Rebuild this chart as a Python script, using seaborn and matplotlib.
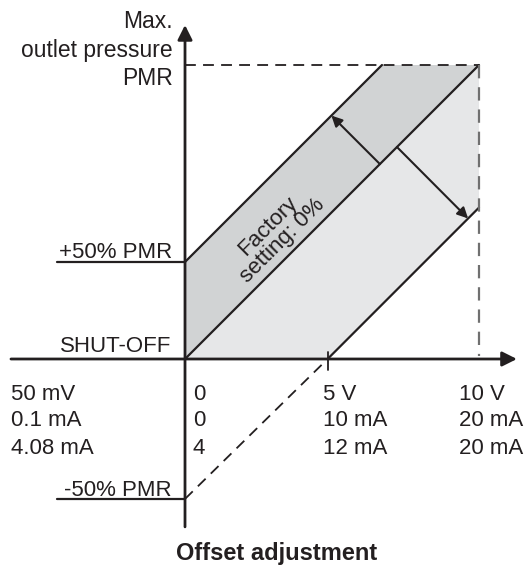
import seaborn as sns
import matplotlib.pyplot as plt
import pandas as pd

# schematic units: 1 unit ~ 29.4 px, x in volts (0..10)
pmr_level = 10.0
plus50_level = 3.3
minus50_level = -4.76
half_x = 4.85
full_x = 10.0

y_labels = ["Max.\noutlet pressure\nPMR", "+50% PMR", "SHUT-OFF", "-50% PMR"]
y_label_pos = [10.5, 3.63, 0.42, -4.47]
col_x = [-5.92, 0.27, 4.69, 9.32]
col_labels = [
    ["50 mV", "0.1 mA", "4.08 mA"],
    ["0", "0", "4"],
    ["5 V", "10 mA", "12 mA"],
    ["10 V", "20 mA", "20 mA"],
]
row_y = [-1.22, -2.1, -3.03]

ink = "#231f20"
dark_grey = "#d1d3d4"
light_grey = "#e6e7e8"
fs = 16

sns.set_style("white")
plt.rcParams["font.family"] = ["Liberation Sans", "DejaVu Sans"]

fig = plt.figure(figsize=(5.24, 5.67), dpi=100)
ax = fig.add_axes([0, 0, 1, 1])
ax.set_xlim(-6.293, 11.531)
ax.set_ylim(-7.075, 12.211)
ax.axis("off")

top_cross = pmr_level - plus50_level
# filled bands
ax.fill([0, top_cross, full_x, 0], [plus50_level, pmr_level, pmr_level, 0],
        color=dark_grey, lw=0, zorder=1)
ax.fill([0, full_x, full_x, half_x], [0, pmr_level, full_x - half_x, 0],
        color=light_grey, lw=0, zorder=1)

# solid characteristic lines
lines = pd.DataFrame({
    "x": [0, top_cross, 0, full_x, half_x, full_x,
          -4.35, 0, -4.35, 0],
    "y": [plus50_level, pmr_level, 0, pmr_level, 0, full_x - half_x,
          plus50_level, plus50_level, minus50_level, minus50_level],
    "line": ["up", "up", "mid", "mid", "low", "low",
             "p50", "p50", "m50", "m50"],
})
sns.lineplot(data=lines, x="x", y="y", units="line", estimator=None,
             color=ink, lw=1.6, ax=ax, zorder=3, sort=False)

# dashed helpers
ax.plot([0, half_x], [minus50_level, 0], color=ink, lw=1.3,
        dashes=(6, 4), zorder=3)
ax.plot([0, full_x], [pmr_level, pmr_level], color=ink, lw=1.3,
        dashes=(6, 4), zorder=3)
ax.plot([full_x, full_x], [pmr_level, 0.1], color="#707070", lw=1.6,
        dashes=(6, 4), zorder=3)

# axes with arrows
ax.annotate("", xy=(11.29, 0), xytext=(-5.92, 0),
            arrowprops=dict(arrowstyle="-|>", color=ink, lw=2,
                            mutation_scale=22, shrinkA=0, shrinkB=0),
            zorder=4)
ax.annotate("", xy=(0, 11.36), xytext=(0, -5.71),
            arrowprops=dict(arrowstyle="-|>", color=ink, lw=2,
                            mutation_scale=22, shrinkA=0, shrinkB=0),
            zorder=4)
ax.plot([half_x, half_x], [0.24, -0.37], color=ink, lw=1.3, zorder=4)

# offset arrows
ax.annotate("", xy=(4.98, 8.28), xytext=(6.63, 6.63),
            arrowprops=dict(arrowstyle="-|>", color=ink, lw=1.5,
                            mutation_scale=16, shrinkA=0, shrinkB=0),
            zorder=4)
ax.annotate("", xy=(9.63, 4.78), xytext=(7.21, 7.21),
            arrowprops=dict(arrowstyle="-|>", color=ink, lw=1.5,
                            mutation_scale=16, shrinkA=0, shrinkB=0),
            zorder=4)

ax.text(3.06, 4.27, "Factory\nsetting: 0%", rotation=45, ha="center",
        va="center", fontsize=fs, color=ink, linespacing=1.0,
        rotation_mode="anchor", zorder=5)

# y labels
ax.text(-0.41, y_label_pos[0], y_labels[0], ha="right", va="center",
        fontsize=16.5, color=ink, linespacing=1.31)
for lab, yy in zip(y_labels[1:], y_label_pos[1:]):
    ax.text(-0.45, yy, lab, ha="right", va="center", fontsize=fs, color=ink)

# x labels
for cx, labs in zip(col_x, col_labels):
    for yy, lab in zip(row_y, labs):
        ax.text(cx, yy, lab, ha="left", va="center", fontsize=fs, color=ink)

ax.text(3.1, -6.6, "Offset adjustment", ha="center", va="center",
        fontsize=17, fontweight="bold", color=ink)

plt.savefig("out.png", dpi=100)
plt.close()
